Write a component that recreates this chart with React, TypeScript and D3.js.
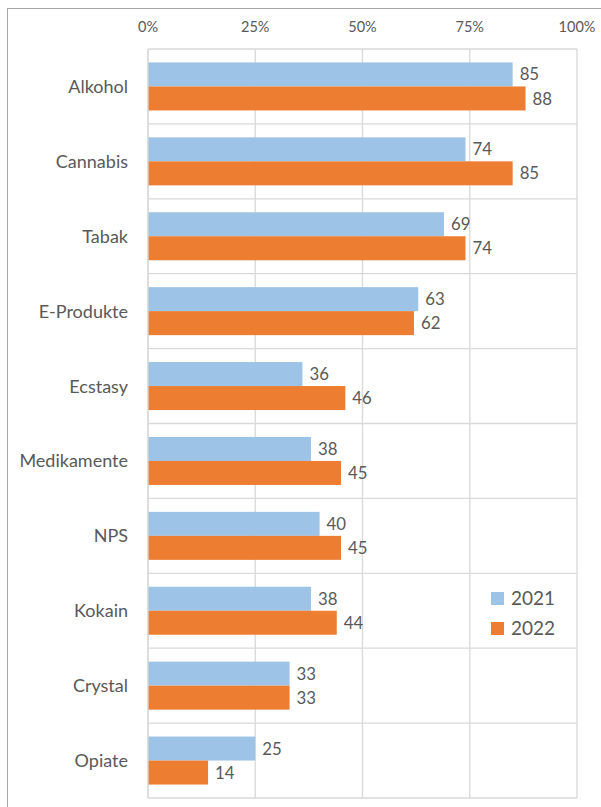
import React from "react";
import * as d3 from "d3";

const categories = ["Alkohol", "Cannabis", "Tabak", "E-Produkte", "Ecstasy", "Medikamente", "NPS", "Kokain", "Crystal", "Opiate"];
const values2021 = [85, 74, 69, 63, 36, 38, 40, 38, 33, 25];
const values2022 = [88, 85, 74, 62, 46, 45, 45, 44, 33, 14];
const seriesNames = ["2021", "2022"];
const seriesColors = ["#9DC3E6", "#ED7D31"];
const xTicks = [0, 25, 50, 75, 100];

const W = 601;
const H = 807;
const FONT = "Lato, 'Open Sans', sans-serif";
const TEXT = "#595959";
const GRID = "#D9D9D9";

export default function App() {
  const left = 148, right = 577, top = 49, bottom = 798;
  const x = d3.scaleLinear().domain([0, 100]).range([left, right]);
  const y = d3.scaleBand<string>().domain(categories).range([top, bottom]);
  const inner = d3.scaleBand<string>().domain(seriesNames).range([0, y.bandwidth()]).paddingOuter(0.56).paddingInner(0);
  const series = [values2021, values2022];

  return (
    <svg width={W} height={H} style={{ position: "absolute", left: 0, top: 0, background: "#fff" }} fontFamily={FONT}>
      <rect x={7.5} y={8.5} width={620} height={820} fill="#fff" stroke="#A6A6A6" strokeWidth={1} />
      {/* vertical gridlines */}
      {xTicks.map((t) => (
        <line key={"g" + t} x1={x(t)} x2={x(t)} y1={top} y2={bottom} stroke={GRID} strokeWidth={1.3} />
      ))}
      {/* category separators */}
      {categories.map((c) => (
        <line key={"s" + c} x1={left} x2={right} y1={y(c)!} y2={y(c)!} stroke={GRID} strokeWidth={1.3} />
      ))}
      <line x1={left} x2={right} y1={bottom} y2={bottom} stroke={GRID} strokeWidth={1.3} />
      {/* tick labels */}
      {xTicks.map((t) => (
        <text key={"t" + t} x={x(t)} y={32} textAnchor="middle" fontSize={14.5} fill={TEXT}>
          {t + "%"}
        </text>
      ))}
      {/* bars */}
      {categories.map((c, i) => (
        <g key={"c" + c}>
          {series.map((vals, s) => {
            const by = y(c)! + inner(seriesNames[s])!;
            const bh = inner.bandwidth();
            return (
              <g key={s}>
                <rect x={x(0)} y={by} width={x(vals[i]) - x(0)} height={bh} fill={seriesColors[s]} />
                <text x={x(vals[i]) + 7} y={by + bh / 2} dy="0.36em" fontSize={16.8} fill={TEXT}>
                  {vals[i]}
                </text>
              </g>
            );
          })}
          <text x={128} y={y(c)! + y.bandwidth() / 2} dy="0.36em" textAnchor="end" fontSize={18} fill={TEXT}>
            {c}
          </text>
        </g>
      ))}
      {/* left axis line */}
      <line x1={left} x2={left} y1={top} y2={bottom} stroke={GRID} strokeWidth={1.3} />
      {/* legend */}
      {seriesNames.map((n, s) => (
        <g key={"l" + n}>
          <rect x={491} y={592 + s * 30} width={13} height={13} fill={seriesColors[s]} />
          <text x={511} y={598.5 + s * 30} dy="0.36em" fontSize={19} fill={TEXT}>
            {n}
          </text>
        </g>
      ))}
    </svg>
  );
}
